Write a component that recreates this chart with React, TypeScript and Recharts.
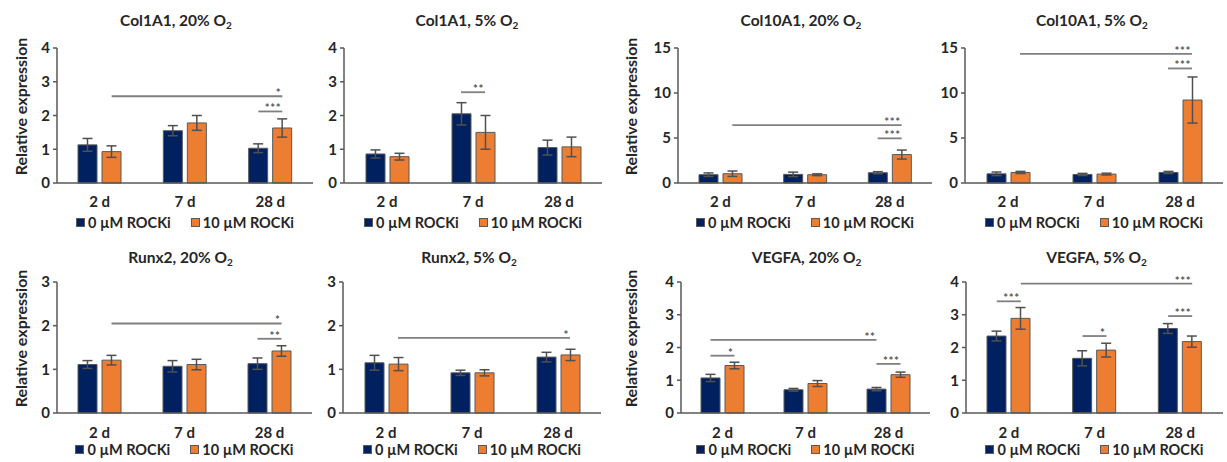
import { BarChart, Bar, XAxis, YAxis, ErrorBar, ReferenceLine, Legend } from "recharts";

const days = ["2 d", "7 d", "28 d"];
const seriesNames = ["0 µM ROCKi", "10 µM ROCKi"];

const ticks4 = [0, 1, 2, 3, 4];
const ticks3 = [0, 1, 2, 3];
const ticks15 = [0, 5, 10, 15];

// Col1A1, 20% O2
const col1a1Hi0 = [1.13, 1.55, 1.03];
const col1a1Hi0Err = [0.19, 0.15, 0.13];
const col1a1Hi10 = [0.93, 1.78, 1.63];
const col1a1Hi10Err = [0.17, 0.22, 0.27];
// Col1A1, 5% O2
const col1a1Lo0 = [0.86, 2.05, 1.05];
const col1a1Lo0Err = [0.12, 0.33, 0.22];
const col1a1Lo10 = [0.78, 1.5, 1.07];
const col1a1Lo10Err = [0.1, 0.5, 0.29];
// Col10A1, 20% O2
const col10a1Hi0 = [0.92, 0.96, 1.14];
const col10a1Hi0Err = [0.2, 0.25, 0.12];
const col10a1Hi10 = [1.03, 0.92, 3.16];
const col10a1Hi10Err = [0.3, 0.1, 0.5];
// Col10A1, 5% O2
const col10a1Lo0 = [1.02, 0.95, 1.17];
const col10a1Lo0Err = [0.2, 0.12, 0.12];
const col10a1Lo10 = [1.17, 0.99, 9.22];
const col10a1Lo10Err = [0.12, 0.1, 2.56];
// Runx2, 20% O2
const runx2Hi0 = [1.11, 1.07, 1.13];
const runx2Hi0Err = [0.09, 0.13, 0.13];
const runx2Hi10 = [1.21, 1.11, 1.42];
const runx2Hi10Err = [0.11, 0.12, 0.12];
// Runx2, 5% O2
const runx2Lo0 = [1.15, 0.92, 1.28];
const runx2Lo0Err = [0.17, 0.06, 0.11];
const runx2Lo10 = [1.12, 0.92, 1.33];
const runx2Lo10Err = [0.15, 0.07, 0.13];
// VEGFA, 20% O2
const vegfaHi0 = [1.07, 0.71, 0.73];
const vegfaHi0Err = [0.11, 0.04, 0.05];
const vegfaHi10 = [1.45, 0.9, 1.17];
const vegfaHi10Err = [0.1, 0.09, 0.08];
// VEGFA, 5% O2
const vegfaLo0 = [2.35, 1.67, 2.58];
const vegfaLo0Err = [0.15, 0.23, 0.15];
const vegfaLo10 = [2.89, 1.92, 2.18];
const vegfaLo10Err = [0.33, 0.21, 0.17];

// significance brackets: from/to day, series index (0 = 0 µM, 1 = 10 µM), height, stars
const col1a1HiSig = [
  { from: "2 d", fs: 1, to: "28 d", ts: 1, y: 2.57, stars: "*" },
  { from: "28 d", fs: 0, to: "28 d", ts: 1, y: 2.12, stars: "***" },
];
const col1a1LoSig = [{ from: "7 d", fs: 0, to: "7 d", ts: 1, y: 2.69, stars: "**" }];
const col10a1HiSig = [
  { from: "2 d", fs: 1, to: "28 d", ts: 1, y: 6.43, stars: "***" },
  { from: "28 d", fs: 0, to: "28 d", ts: 1, y: 4.96, stars: "***" },
];
const col10a1LoSig = [
  { from: "2 d", fs: 1, to: "28 d", ts: 1, y: 14.34, stars: "***" },
  { from: "28 d", fs: 0, to: "28 d", ts: 1, y: 12.73, stars: "***" },
];
const runx2HiSig = [
  { from: "2 d", fs: 1, to: "28 d", ts: 1, y: 2.05, stars: "*" },
  { from: "28 d", fs: 0, to: "28 d", ts: 1, y: 1.7, stars: "**" },
];
const runx2LoSig = [{ from: "2 d", fs: 1, to: "28 d", ts: 1, y: 1.72, stars: "*" }];
const vegfaHiSig = [
  { from: "2 d", fs: 0, to: "28 d", ts: 0, y: 2.23, stars: "**" },
  { from: "2 d", fs: 0, to: "2 d", ts: 1, y: 1.75, stars: "*" },
  { from: "28 d", fs: 0, to: "28 d", ts: 1, y: 1.5, stars: "***" },
];
const vegfaLoSig = [
  { from: "2 d", fs: 1, to: "28 d", ts: 1, y: 3.95, stars: "***" },
  { from: "2 d", fs: 0, to: "2 d", ts: 1, y: 3.41, stars: "***" },
  { from: "7 d", fs: 0, to: "7 d", ts: 1, y: 2.35, stars: "*" },
  { from: "28 d", fs: 0, to: "28 d", ts: 1, y: 2.96, stars: "***" },
];

const NAVY = "#002060";
const ORANGE = "#ED7D31";
const AXIS = "#595959";
const TEXT = "#262626";
const BAR = 19;
const GAP = 5;
const FONT = "Lato, 'Open Sans', sans-serif";

const rows = [
  { chartTop: 30, plotTop: 48, plotBottom: 183, xh: 29, lh: 20, titleY: 20, tm: 7 },
  { chartTop: 265, plotTop: 282, plotBottom: 413, xh: 26, lh: 20, titleY: 257, tm: 8 },
];

const panels = [
  { gene: "Col1A1", o2: "20", c: col1a1Hi0, ce: col1a1Hi0Err, r: col1a1Hi10, re: col1a1Hi10Err, sig: col1a1HiSig, yMax: 4, ticks: ticks4, row: 0, cl: 0, pl: 57, pr: 313, tdx: -9, yLabel: true },
  { gene: "Col1A1", o2: "5", c: col1a1Lo0, ce: col1a1Lo0Err, r: col1a1Lo10, re: col1a1Lo10Err, sig: col1a1LoSig, yMax: 4, ticks: ticks4, row: 0, cl: 310, pl: 344, pr: 602, tdx: -6 },
  { gene: "Col10A1", o2: "20", c: col10a1Hi0, ce: col10a1Hi0Err, r: col10a1Hi10, re: col10a1Hi10Err, sig: col10a1HiSig, yMax: 15, ticks: ticks15, row: 0, cl: 610, pl: 678, pr: 932, tdx: -4, yLabel: true },
  { gene: "Col10A1", o2: "5", c: col10a1Lo0, ce: col10a1Lo0Err, r: col10a1Lo10, re: col10a1Lo10Err, sig: col10a1LoSig, yMax: 15, ticks: ticks15, row: 0, cl: 930, pl: 965, pr: 1223, tdx: -2 },
  { gene: "Runx2", o2: "20", c: runx2Hi0, ce: runx2Hi0Err, r: runx2Hi10, re: runx2Hi10Err, sig: runx2HiSig, yMax: 3, ticks: ticks3, row: 1, cl: 0, pl: 57, pr: 312, tdx: -4, yLabel: true },
  { gene: "Runx2", o2: "5", c: runx2Lo0, ce: runx2Lo0Err, r: runx2Lo10, re: runx2Lo10Err, sig: runx2LoSig, yMax: 3, ticks: ticks3, row: 1, cl: 310, pl: 343, pr: 601, tdx: -3 },
  { gene: "VEGFA", o2: "20", c: vegfaHi0, ce: vegfaHi0Err, r: vegfaHi10, re: vegfaHi10Err, sig: vegfaHiSig, yMax: 4, ticks: ticks4, row: 1, cl: 610, pl: 681, pr: 930, tdx: 1, yLabel: true },
  { gene: "VEGFA", o2: "5", c: vegfaLo0, ce: vegfaLo0Err, r: vegfaLo10, re: vegfaLo10Err, sig: vegfaLoSig, yMax: 4, ticks: ticks4, row: 1, cl: 930, pl: 966, pr: 1223, tdx: 2 },
];

const renderLegend = (props: any) => (
  <div style={{ display: "flex", justifyContent: "center", alignItems: "center", height: 20, gap: 20 }}>
    {(props.payload || []).map((e: any) => (
      <div key={e.value} style={{ display: "flex", alignItems: "center" }}>
        <span style={{ display: "inline-block", width: 7, height: 7, background: e.color, border: `1px solid ${AXIS}`, marginRight: 3 }} />
        <span style={{ fontSize: 14.5, fontWeight: 700, color: TEXT, fontFamily: FONT }}>{e.value}</span>
      </div>
    ))}
  </div>
);

const renderYLabel = (props: any) => {
  const vb = props.viewBox || {};
  const cx = vb.x + 20;
  const cy = vb.y + vb.height / 2 - 9;
  return (
    <text x={cx} y={cy} transform={`rotate(-90, ${cx}, ${cy})`} textAnchor="middle" dominantBaseline="central" fontSize={16} fontWeight={700} fill={TEXT}>
      Relative expression
    </text>
  );
};

const sigShape = (s: any) => (p: any) => {
  const off = (BAR + GAP) / 2;
  const x1 = p.x1 + (s.fs ? off : -off);
  const x2 = p.x2 + (s.ts ? off : -off);
  return (
    <g>
      <line x1={x1} y1={p.y1} x2={x2} y2={p.y2} stroke="#7f7f7f" strokeWidth={1.8} />
      <text x={x2 - 1} y={p.y1 + 1} textAnchor="end" fontSize={11.5} letterSpacing={0.6} fontWeight={700} fill="#595959">
        {s.stars}
      </text>
    </g>
  );
};

function Panel({ p }: { p: any }) {
  const row = rows[p.row];
  const data = days.map((d, i) => ({ day: d, c: p.c[i], ce: p.ce[i], r: p.r[i], re: p.re[i] }));
  const yw = p.pl - p.cl;
  const pw = p.pr - p.pl;
  const width = p.pr - p.cl + 2;
  const height = row.plotBottom - row.chartTop + row.xh + row.lh;
  return (
    <>
      <div
        style={{
          position: "absolute",
          left: p.pl + p.tdx,
          width: pw,
          top: row.titleY - 10,
          height: 20,
          lineHeight: "20px",
          textAlign: "center",
          fontSize: 15.5,
          fontWeight: 700,
          color: TEXT,
          whiteSpace: "nowrap",
        }}
      >
        {p.gene}, {p.o2}% O<span style={{ fontSize: 10, position: "relative", top: 3 }}>2</span>
      </div>
      <div style={{ position: "absolute", left: p.cl, top: row.chartTop }}>
        <BarChart
          width={width}
          height={height}
          data={data}
          margin={{ top: row.plotTop - row.chartTop, right: 2, left: 0, bottom: 0 }}
          barSize={BAR}
          barGap={GAP}
        >
          <XAxis
            dataKey="day"
            height={row.xh}
            tickLine={false}
            axisLine={{ stroke: AXIS, strokeWidth: 1.5 }}
            tick={{ fill: TEXT, fontSize: 15, fontWeight: 700 }}
            tickMargin={row.tm}
            interval={0}
          />
          <YAxis
            width={yw}
            domain={[0, p.yMax]}
            ticks={p.ticks}
            interval={0}
            axisLine={{ stroke: AXIS, strokeWidth: 1.5 }}
            tickLine={{ stroke: AXIS, strokeWidth: 1.5 }}
            tickSize={4}
            tickMargin={3}
            tick={{ fill: TEXT, fontSize: 15, fontWeight: 700 }}
            label={p.yLabel ? renderYLabel : undefined}
          />
          <Legend
            verticalAlign="bottom"
            height={row.lh}
            content={renderLegend}
            wrapperStyle={{ left: yw, width: pw }}
          />
          <Bar dataKey="c" name={seriesNames[0]} fill={NAVY} stroke={AXIS} strokeWidth={1} legendType="square" isAnimationActive={false}>
            <ErrorBar dataKey="ce" width={5} stroke="#505050" strokeWidth={1.5} direction="y" />
          </Bar>
          <Bar dataKey="r" name={seriesNames[1]} fill={ORANGE} stroke={AXIS} strokeWidth={1} legendType="square" isAnimationActive={false}>
            <ErrorBar dataKey="re" width={5} stroke="#505050" strokeWidth={1.5} direction="y" />
          </Bar>
          {p.sig.map((s: any, i: number) => (
            <ReferenceLine
              key={i}
              segment={[
                { x: s.from, y: s.y },
                { x: s.to, y: s.y },
              ]}
              ifOverflow="visible"
              shape={sigShape(s)}
            />
          ))}
        </BarChart>
      </div>
    </>
  );
}

export default function App() {
  return (
    <div
      style={{
        position: "absolute",
        left: 0,
        top: 0,
        width: 1227,
        height: 462,
        background: "#fff",
        fontFamily: FONT,
        overflow: "hidden",
      }}
    >
      {panels.map((p, i) => (
        <Panel key={i} p={p} />
      ))}
    </div>
  );
}
